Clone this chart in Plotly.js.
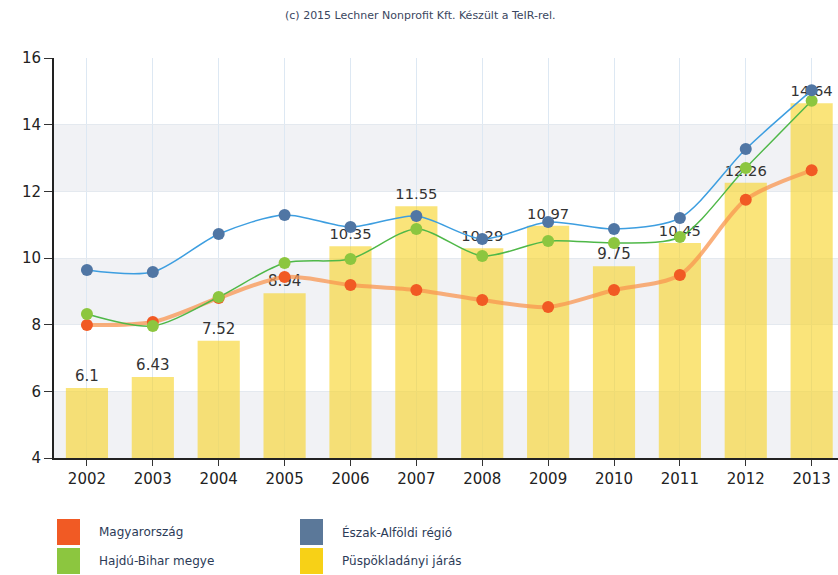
<!DOCTYPE html>
<html><head><meta charset="utf-8">
<script src="https://cdn.plot.ly/plotly-3.0.1.min.js"></script>
<style>html,body{margin:0;padding:0;background:#fff}#chart{width:838px;height:575px}</style>
</head><body><div id="chart"></div>
<script>
const years = ['2002','2003','2004','2005','2006','2007','2008','2009','2010','2011','2012','2013'];
const jaras = [6.1, 6.43, 7.52, 8.94, 10.35, 11.55, 10.29, 10.97, 9.75, 10.45, 12.26, 14.64];
const regio = [9.64, 9.58, 10.72, 11.29, 10.93, 11.26, 10.57, 11.08, 10.87, 11.2, 13.27, 15.03];
const megye = [8.32, 7.96, 8.83, 9.85, 9.97, 10.87, 10.06, 10.51, 10.45, 10.63, 12.7, 14.72];
const orszag = [7.99, 8.08, 8.8, 9.43, 9.19, 9.04, 8.74, 8.53, 9.04, 9.49, 11.75, 12.63];
const legendNames = ['Magyarország', 'Észak-Alföldi régió', 'Hajdú-Bihar megye', 'Püspökladányi járás'];
const legendColors = ['#f15a24', '#5b7899', '#8cc63f', '#f7d117'];
const yTicks = [4, 6, 8, 10, 12, 14, 16];

const font = 'Tahoma, "DejaVu Sans", sans-serif';
const traces = [
  {type:'bar', x:years, y:jaras, name:legendNames[3], width:0.64,
   marker:{color:'rgba(247,212,40,0.62)'}, text:jaras.map(String), textposition:'outside',
   textfont:{size:15, color:'#333', family:font}, cliponaxis:false, hoverinfo:'x+y'},
  {type:'scatter', mode:'lines+markers', x:years, y:orszag, name:legendNames[0],
   line:{color:'rgba(248,150,80,0.75)', width:4, shape:'spline', smoothing:0.8},
   marker:{color:'#f15a24', size:12}, cliponaxis:false},
  {type:'scatter', mode:'lines+markers', x:years, y:megye, name:legendNames[2],
   line:{color:'#4fb848', width:1.5, shape:'spline', smoothing:0.8},
   marker:{color:'#8cc63f', size:12}, cliponaxis:false},
  {type:'scatter', mode:'lines+markers', x:years, y:regio, name:legendNames[1],
   line:{color:'#3d9ee0', width:1.5, shape:'spline', smoothing:0.8},
   marker:{color:'#5076a4', size:12}, cliponaxis:false}
];

const shapes = [];
[[4,6],[8,10],[12,14]].forEach(b => shapes.push({type:'rect', xref:'paper', yref:'y', x0:0, x1:1, y0:b[0], y1:b[1],
  fillcolor:'#f1f2f5', line:{width:0}, layer:'below'}));
const annotations = [{xref:'paper', yref:'paper', x:(420-54)/784, y:1+(58-15)/400, xanchor:'center', yanchor:'middle',
  text:'(c) 2015 Lechner Nonprofit Kft. Készült a TeIR-rel.', showarrow:false, font:{size:11, color:'#3a4660', family:font}}];
const legPos = [[57,532],[300,532],[57,561],[300,561]];
legendNames.forEach((n,i) => {
  const px = legPos[i][0], py = legPos[i][1];
  shapes.push({type:'rect', xref:'paper', yref:'paper',
    x0:(px-54)/784, x1:(px+23-54)/784, y0:(458-(py+13))/400, y1:(458-(py-13))/400,
    fillcolor:legendColors[i], line:{width:0}});
  annotations.push({xref:'paper', yref:'paper', x:(px+40-54)/784, y:(458-py)/400, xanchor:'left', yanchor:'middle',
    text:n, showarrow:false, font:{size:12, color:'#2c3b57', family:font}});
});

const layout = {
  width:838, height:575, margin:{l:54, r:0, t:58, b:117},
  paper_bgcolor:'#fff', plot_bgcolor:'rgba(0,0,0,0)', showlegend:false, hovermode:false,
  xaxis:{type:'category', range:[-0.5, 11.4], showline:true, linecolor:'#222', linewidth:2,
    ticks:'outside', ticklen:6, tickcolor:'#333', showgrid:true, gridcolor:'#dde8f3',
    tickfont:{size:15, color:'#222', family:font}, fixedrange:true},
  yaxis:{range:[4,16], tickvals:yTicks, showline:true, linecolor:'#222', linewidth:2,
    ticks:'outside', ticklen:8, tickcolor:'#333', showgrid:true, gridcolor:'#e4e9ef', zeroline:false,
    tickfont:{size:15, color:'#222', family:font}, fixedrange:true},
  shapes:shapes, annotations:annotations
};
Plotly.newPlot('chart', traces, layout, {displayModeBar:false, staticPlot:true});
</script></body></html>
